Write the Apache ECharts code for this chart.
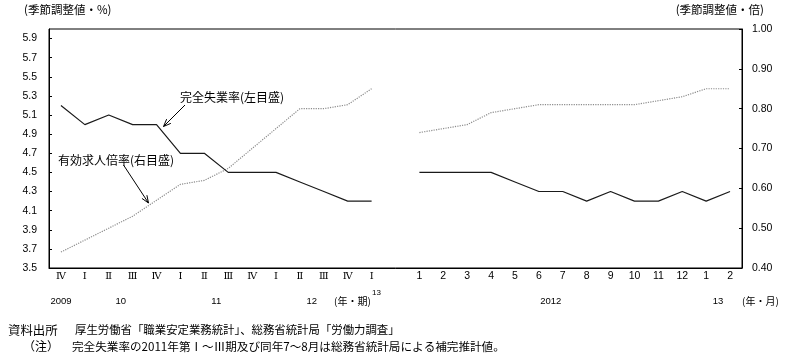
<!DOCTYPE html>
<html>
<head>
<meta charset="utf-8">
<script src="https://cdn.jsdelivr.net/npm/echarts@6/dist/echarts.min.js"></script>
<style>
html,body{margin:0;padding:0;background:#fff;}
#main{width:792px;height:355px;}
</style>
</head>
<body>
<div id="main"></div>
<script>
// ---- data ----
const quarterLabels = ['Ⅳ','Ⅰ','Ⅱ','Ⅲ','Ⅳ','Ⅰ','Ⅱ','Ⅲ','Ⅳ','Ⅰ','Ⅱ','Ⅲ','Ⅳ','Ⅰ'];
const monthLabels = ['1','2','3','4','5','6','7','8','9','10','11','12','1','2'];
const unempQuarterly = [5.2,5.0,5.1,5.0,5.0,4.7,4.7,4.5,4.5,4.5,4.4,4.3,4.2,4.2];
const ratioQuarterly = [0.44,0.47,0.50,0.53,0.57,0.61,0.62,0.65,0.70,0.75,0.80,0.80,0.81,0.85];
const unempMonthly = [4.5,4.5,4.5,4.5,4.4,4.3,4.3,4.2,4.3,4.2,4.2,4.3,4.2,4.3];
const ratioMonthly = [0.74,0.75,0.76,0.79,0.80,0.81,0.81,0.81,0.81,0.81,0.82,0.83,0.85,0.85];
const quarterYearTexts = ['2009','10','11','12'];
const monthYearTexts = ['2012','13'];

// ---- build ----
const categories = [...quarterLabels, '', ...monthLabels];
const monthStart = quarterLabels.length + 1;
function pad(arr, start){
  return categories.map((_, i) => (i >= start && i < start + arr.length) ? arr[i - start] : null);
}
const CJK = '"Noto Sans CJK JP", sans-serif';
const SANS = '"Liberation Sans", Arial, sans-serif';

const chart = echarts.init(document.getElementById('main'), null, {renderer:'canvas'});

const option = {
  animation:false,
  backgroundColor:'#fff',
  grid:{left:49, right:50, top:29, bottom:87, show:true, borderColor:'#000', borderWidth:1, backgroundColor:'transparent'},
  xAxis:{
    type:'category', data:categories, boundaryGap:true,
    axisLine:{lineStyle:{color:'#000', width:1}},
    axisTick:{show:false},
    axisLabel:{
      interval:0, margin:3, color:'#000',
      formatter:(v, i) => i < quarterLabels.length ? '{q|' + v + '}' : '{m|' + v + '}',
      rich:{
        q:{fontFamily:'"DejaVu Serif", "Liberation Serif", serif', fontSize:10, color:'#000'},
        m:{fontFamily:SANS, fontSize:10.5, color:'#000'}
      }
    },
    splitLine:{show:false}
  },
  yAxis:[
    {
      type:'value', min:3.5, max:6.0, interval:0.2, position:'left',
      axisLine:{show:true, lineStyle:{color:'#000'}},
      axisTick:{show:true, inside:true, length:3, lineStyle:{color:'#000'}},
      axisLabel:{margin:12, color:'#000', fontFamily:SANS, fontSize:10.5, showMaxLabel:false,
        formatter:v => v.toFixed(1)},
      splitLine:{show:false}
    },
    {
      type:'value', min:0.4, max:1.0, interval:0.1, position:'right',
      axisLine:{show:true, lineStyle:{color:'#000'}},
      axisTick:{show:true, inside:true, length:3, lineStyle:{color:'#000'}},
      axisLabel:{margin:10, color:'#000', fontFamily:SANS, fontSize:10.5,
        formatter:v => v.toFixed(2)},
      splitLine:{show:false}
    }
  ],
  series:[
    {type:'line', yAxisIndex:1, data:pad(ratioQuarterly,0), symbol:'none', connectNulls:false,
      lineStyle:{color:'#8c8c8c', width:1.2, type:'dotted'}},
    {type:'line', yAxisIndex:1, data:pad(ratioMonthly,monthStart), symbol:'none', connectNulls:false,
      lineStyle:{color:'#8c8c8c', width:1.2, type:'dotted'}},
    {type:'line', yAxisIndex:0, data:pad(unempQuarterly,0), symbol:'none', connectNulls:false,
      lineStyle:{color:'#1a1a1a', width:1.2}},
    {type:'line', yAxisIndex:0, data:pad(unempMonthly,monthStart), symbol:'none', connectNulls:false,
      lineStyle:{color:'#1a1a1a', width:1.2}}
  ]
};
chart.setOption(option);

// ---- annotations / texts ----
function txt(x, y, text, size, family, align){
  return {type:'text', x:x, y:y, silent:true, z:100,
    style:{text:text, fontSize:size, fontFamily:family || CJK, fill:'#000',
      align:align || 'left', verticalAlign:'middle', textAlign:align || 'left', textVerticalAlign:'middle'}};
}
function arrow(x1, y1, x2, y2){
  const a = Math.atan2(y2 - y1, x2 - x1), L = 8, s = 0.38;
  return [
    {type:'line', silent:true, z:100, shape:{x1:x1, y1:y1, x2:x2, y2:y2}, style:{stroke:'#000', lineWidth:1}},
    {type:'polyline', silent:true, z:100, shape:{points:[
      [x2 - L*Math.cos(a - s), y2 - L*Math.sin(a - s)], [x2, y2],
      [x2 - L*Math.cos(a + s), y2 - L*Math.sin(a + s)]]},
      style:{stroke:'#000', fill:null, lineWidth:1}}
  ];
}
function catX(i){ return chart.convertToPixel({xAxisIndex:0}, i); }
function midX(a, b){ return (catX(a) + catX(b)) / 2; }

const rowY = 301.5;
const g = [];
g.push(txt(24, 10, '(季節調整値・%)', 11.5));
g.push(txt(764, 10, '(季節調整値・倍)', 11.5, CJK, 'right'));
g.push(txt(180, 97, '完全失業率(左目盛)', 12));
g.push(txt(58, 160, '有効求人倍率(右目盛)', 12));
g.push(...arrow(185, 105, 163.5, 126.5));
g.push(...arrow(123.5, 165, 148.5, 203));
// year row
const qAnchors = [catX(0), midX(2,3), midX(6,7), midX(10,11)];
quarterYearTexts.forEach((t, k) => g.push(txt(qAnchors[k], rowY, t, 9.5, SANS, 'center')));
g.push(txt(334, rowY, '(年・期)', 10));
g.push(txt(372, 293, '13', 8, SANS));
const mAnchors = [midX(monthStart+5, monthStart+6), midX(monthStart+12, monthStart+13)];
monthYearTexts.forEach((t, k) => g.push(txt(mAnchors[k], rowY, t, 9.5, SANS, 'center')));
g.push(txt(742, rowY, '(年・月)', 10));
// footnotes
g.push(txt(8, 330, '資料出所', 12.4));
g.push(txt(75, 330, '厚生労働省「職業安定業務統計」、総務省統計局「労働力調査」', 11.4));
g.push(txt(23, 346.5, '（注）', 12));
g.push(txt(72, 346.5, '完全失業率の2011年第Ⅰ～Ⅲ期及び同年7～8月は総務省統計局による補完推計値。', 11.6));

chart.setOption({graphic:{elements:g}});
</script>
</body>
</html>
